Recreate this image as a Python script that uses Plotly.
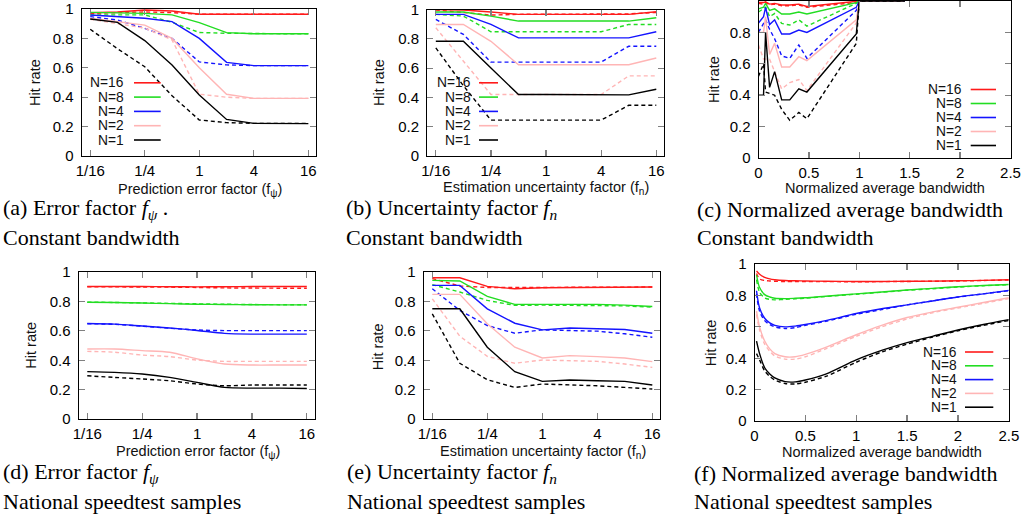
import math
import plotly.graph_objects as go

W, H = 1034, 517

# ---------------- data ----------------
N_LABELS = ["N=16", "N=8", "N=4", "N=2", "N=1"]
COLORS = ["#ff1a1a", "#22dd22", "#1414ff", "#ffb5b5", "#000000"]

FACTOR_X = [1/16, 1/8, 1/4, 1/2, 1, 2, 4, 8, 16]
FACTOR_TICKS = [1/16, 1/4, 1, 4, 16]
FACTOR_TICKTEXT = ["1/16", "1/4", "1", "4", "16"]

# (a) prediction error factor, constant bandwidth
a_solid_16 = [0.975, 0.980, 0.993, 0.986, 0.964, 0.964, 0.964, 0.964, 0.964]
a_dash_16 = [0.970, 0.975, 0.980, 0.975, 0.965, 0.964, 0.964, 0.964, 0.964]
a_solid_8 = [0.977, 0.975, 0.970, 0.960, 0.907, 0.839, 0.832, 0.832, 0.832]
a_dash_8 = [0.960, 0.960, 0.960, 0.910, 0.840, 0.835, 0.832, 0.832, 0.832]
a_solid_4 = [0.959, 0.950, 0.937, 0.914, 0.800, 0.637, 0.615, 0.615, 0.615]
a_dash_4 = [0.948, 0.925, 0.868, 0.800, 0.640, 0.620, 0.615, 0.615, 0.615]
a_solid_2 = [0.937, 0.914, 0.890, 0.800, 0.600, 0.420, 0.392, 0.392, 0.392]
a_dash_2 = [0.930, 0.900, 0.870, 0.790, 0.420, 0.400, 0.392, 0.392, 0.392]
a_solid_1 = [0.932, 0.909, 0.785, 0.619, 0.415, 0.249, 0.222, 0.222, 0.220]
a_dash_1 = [0.862, 0.730, 0.607, 0.410, 0.245, 0.227, 0.222, 0.222, 0.222]

# (b) estimation uncertainty factor, constant bandwidth
b_solid_16 = [1.000, 0.997, 0.983, 0.967, 0.967, 0.967, 0.967, 0.967, 0.985]
b_dash_16 = [0.997, 0.978, 0.962, 0.967, 0.967, 0.967, 0.967, 0.970, 0.980]
b_solid_8 = [0.983, 0.983, 0.955, 0.921, 0.921, 0.921, 0.921, 0.921, 0.944]
b_dash_8 = [0.967, 0.955, 0.848, 0.848, 0.848, 0.848, 0.848, 0.898, 0.898]
b_solid_4 = [0.967, 0.967, 0.898, 0.806, 0.806, 0.806, 0.806, 0.806, 0.848]
b_dash_4 = [0.932, 0.830, 0.641, 0.641, 0.641, 0.641, 0.641, 0.749, 0.749]
b_solid_2 = [0.898, 0.898, 0.783, 0.623, 0.623, 0.623, 0.623, 0.623, 0.669]
b_dash_2 = [0.875, 0.646, 0.420, 0.420, 0.420, 0.420, 0.420, 0.547, 0.547]
b_solid_1 = [0.783, 0.783, 0.600, 0.420, 0.420, 0.420, 0.420, 0.417, 0.456]
b_dash_1 = [0.738, 0.480, 0.245, 0.245, 0.245, 0.245, 0.245, 0.346, 0.346]

# (c) normalized average bandwidth, constant bandwidth
C_X = [0.0, 0.05, 0.07, 0.11, 0.16, 0.23, 0.31, 0.40, 0.48, 0.97, 1.0, 1.45]
c_solid_16 = [0.990, 0.990, 0.995, 0.980, 0.985, 0.975, 0.975, 0.980, 0.965, 0.995, 1.0, 1.0]
c_dash_16 = [0.985, 0.980, 0.990, 0.975, 0.980, 0.970, 0.970, 0.975, 0.960, 0.990, 1.0, 1.0]
c_solid_8 = [0.950, 0.960, 0.985, 0.940, 0.950, 0.917, 0.917, 0.930, 0.917, 0.990, 1.0, 1.0]
c_dash_8 = [0.930, 0.950, 0.960, 0.900, 0.920, 0.857, 0.847, 0.880, 0.840, 0.985, 1.0, 1.0]
c_solid_4 = [0.860, 0.900, 0.960, 0.850, 0.880, 0.790, 0.790, 0.815, 0.800, 0.960, 1.0, 1.0]
c_dash_4 = [0.800, 0.860, 0.880, 0.820, 0.760, 0.650, 0.635, 0.720, 0.635, 0.940, 1.0, 1.0]
c_solid_2 = [0.800, 0.800, 0.900, 0.660, 0.730, 0.580, 0.580, 0.645, 0.620, 0.880, 1.0, 1.0]
c_dash_2 = [0.720, 0.630, 0.630, 0.630, 0.550, 0.440, 0.480, 0.500, 0.430, 0.860, 1.0, 1.0]
c_solid_1 = [0.400, 0.400, 0.800, 0.450, 0.550, 0.370, 0.370, 0.440, 0.420, 0.790, 1.0, 1.0]
c_dash_1 = [0.520, 0.600, 0.420, 0.410, 0.400, 0.310, 0.240, 0.290, 0.250, 0.730, 1.0, 1.0]

# (d) prediction error factor, national speedtest samples
d_solid_16 = [0.902, 0.902, 0.901, 0.900, 0.899, 0.900, 0.901, 0.901, 0.902]
d_dash_16 = [0.900, 0.899, 0.898, 0.897, 0.895, 0.892, 0.891, 0.890, 0.890]
d_solid_8 = [0.795, 0.793, 0.789, 0.785, 0.781, 0.779, 0.778, 0.777, 0.777]
d_dash_8 = [0.795, 0.793, 0.790, 0.787, 0.784, 0.781, 0.779, 0.778, 0.777]
d_solid_4 = [0.650, 0.646, 0.633, 0.620, 0.603, 0.583, 0.578, 0.578, 0.578]
d_dash_4 = [0.648, 0.645, 0.632, 0.618, 0.606, 0.602, 0.602, 0.602, 0.602]
d_solid_2 = [0.477, 0.477, 0.466, 0.455, 0.410, 0.375, 0.368, 0.368, 0.368]
d_dash_2 = [0.461, 0.455, 0.436, 0.425, 0.402, 0.393, 0.393, 0.393, 0.393]
d_solid_1 = [0.323, 0.318, 0.307, 0.284, 0.250, 0.216, 0.211, 0.211, 0.209]
d_dash_1 = [0.295, 0.284, 0.273, 0.261, 0.239, 0.227, 0.232, 0.232, 0.232]

# (e) estimation uncertainty factor, national speedtest samples
e_solid_16 = [0.961, 0.961, 0.902, 0.886, 0.893, 0.895, 0.895, 0.896, 0.898]
e_dash_16 = [0.955, 0.905, 0.895, 0.893, 0.895, 0.896, 0.897, 0.898, 0.898]
e_solid_8 = [0.943, 0.939, 0.834, 0.780, 0.780, 0.782, 0.780, 0.775, 0.766]
e_dash_8 = [0.914, 0.864, 0.807, 0.773, 0.775, 0.775, 0.775, 0.770, 0.761]
e_solid_4 = [0.909, 0.909, 0.750, 0.652, 0.607, 0.620, 0.614, 0.609, 0.584]
e_dash_4 = [0.886, 0.739, 0.636, 0.584, 0.607, 0.602, 0.598, 0.580, 0.557]
e_solid_2 = [0.848, 0.848, 0.648, 0.489, 0.416, 0.432, 0.425, 0.416, 0.391]
e_dash_2 = [0.818, 0.564, 0.427, 0.380, 0.402, 0.395, 0.393, 0.375, 0.352]
e_solid_1 = [0.750, 0.750, 0.489, 0.323, 0.257, 0.266, 0.261, 0.257, 0.232]
e_dash_1 = [0.716, 0.380, 0.268, 0.216, 0.239, 0.234, 0.227, 0.216, 0.205]

# (f) normalized average bandwidth, national speedtest samples
F_X = [0.02, 0.05, 0.1, 0.15, 0.2, 0.3, 0.4, 0.5, 0.7, 1.0, 1.25, 1.5, 1.75, 2.0, 2.25, 2.5]
f_solid_16 = [0.955, 0.935, 0.915, 0.905, 0.900, 0.895, 0.893, 0.892, 0.890, 0.889, 0.889, 0.890, 0.891, 0.893, 0.896, 0.900]
f_dash_16 = [0.940, 0.905, 0.895, 0.892, 0.890, 0.888, 0.888, 0.888, 0.888, 0.887, 0.888, 0.889, 0.890, 0.892, 0.895, 0.898]
f_solid_8 = [0.930, 0.850, 0.805, 0.790, 0.782, 0.780, 0.782, 0.785, 0.795, 0.810, 0.822, 0.835, 0.845, 0.855, 0.863, 0.870]
f_dash_8 = [0.900, 0.820, 0.785, 0.775, 0.772, 0.775, 0.778, 0.783, 0.793, 0.808, 0.820, 0.833, 0.843, 0.853, 0.862, 0.868]
f_solid_4 = [0.830, 0.720, 0.655, 0.625, 0.610, 0.600, 0.605, 0.615, 0.640, 0.685, 0.715, 0.740, 0.765, 0.790, 0.810, 0.832]
f_dash_4 = [0.810, 0.700, 0.640, 0.615, 0.600, 0.590, 0.595, 0.610, 0.635, 0.680, 0.710, 0.740, 0.765, 0.790, 0.810, 0.830]
f_solid_2 = [0.700, 0.600, 0.510, 0.460, 0.430, 0.410, 0.410, 0.425, 0.470, 0.550, 0.610, 0.660, 0.695, 0.725, 0.755, 0.785]
f_dash_2 = [0.680, 0.580, 0.490, 0.445, 0.415, 0.395, 0.395, 0.410, 0.460, 0.540, 0.600, 0.650, 0.690, 0.720, 0.750, 0.780]
f_solid_1 = [0.510, 0.430, 0.340, 0.300, 0.275, 0.252, 0.250, 0.262, 0.300, 0.390, 0.450, 0.500, 0.540, 0.580, 0.615, 0.646]
f_dash_1 = [0.430, 0.390, 0.320, 0.285, 0.262, 0.240, 0.237, 0.248, 0.285, 0.375, 0.440, 0.490, 0.535, 0.575, 0.610, 0.640]

BW_TICKS = [0, 0.5, 1, 1.5, 2, 2.5]
BW_TICKTEXT = ["0", "0.5", "1", "1.5", "2", "2.5"]
Y_TICKS = [0, 0.2, 0.4, 0.6, 0.8, 1]
Y_TICKTEXT = ["0", "0.2", "0.4", "0.6", "0.8", "1"]

# ---------------- layout helpers ----------------
SANS = "Liberation Sans, Arial, sans-serif"
SERIF = "Liberation Serif, Times New Roman, serif"


def px_x(v):
    return v / W


def px_y(v):
    return 1 - v / H


LOG_RANGE = [math.log10(2 ** -4.32), math.log10(2 ** 4.28)]

panels = [
    dict(key="a", dom=(81.5, 316, 9, 156), kind="factor",
         series=[(a_solid_16, a_dash_16), (a_solid_8, a_dash_8), (a_solid_4, a_dash_4),
                 (a_solid_2, a_dash_2), (a_solid_1, a_dash_1)],
         shape="linear", xtitle="Prediction error factor (f<sub>ψ</sub>)",
         xt=(200, 190), yt=(35, 83),
         legend=dict(text_r=124.7, line=(134, 160.7), y0=82.8, dy=14.3),
         cap=("(a) Error factor <i>f<sub>ψ</sub></i> .", "Constant bandwidth"), capx=2, capy=(209, 237)),
    dict(key="b", dom=(427, 664, 9.5, 156), kind="factor",
         series=[(b_solid_16, b_dash_16), (b_solid_8, b_dash_8), (b_solid_4, b_dash_4),
                 (b_solid_2, b_dash_2), (b_solid_1, b_dash_1)],
         shape="linear", xtitle="Estimation uncertainty factor (f<sub>n</sub>)",
         xt=(545.8, 188), yt=(379, 83),
         legend=dict(text_r=471.7, line=(479, 498), y0=82.8, dy=14.3),
         cap=("(b) Uncertainty factor <i>f<sub>n</sub></i>", "Constant bandwidth"), capx=345, capy=(209, 237)),
    dict(key="c", dom=(758.5, 1010.5, 1, 158), kind="bw", xs=C_X,
         series=[(c_solid_16, c_dash_16), (c_solid_8, c_dash_8), (c_solid_4, c_dash_4),
                 (c_solid_2, c_dash_2), (c_solid_1, c_dash_1)],
         shape="linear", xtitle="Normalized average bandwidth",
         xt=(885, 188), yt=(714, 80),
         legend=dict(text_r=962.7, line=(970.7, 996), y0=89.5, dy=14.0),
         cap=("(c) Normalized average bandwidth", "Constant bandwidth"), capx=696, capy=(209, 237)),
    dict(key="d", dom=(78.5, 314.5, 272, 419.2), kind="factor",
         series=[(d_solid_16, d_dash_16), (d_solid_8, d_dash_8), (d_solid_4, d_dash_4),
                 (d_solid_2, d_dash_2), (d_solid_1, d_dash_1)],
         shape="spline", xtitle="Prediction error factor (f<sub>ψ</sub>)",
         xt=(197.5, 451.7), yt=(31, 345.7), legend=None,
         cap=("(d) Error factor <i>f<sub>ψ</sub></i>", "National speedtest samples"), capx=1.5, capy=(473, 501)),
    dict(key="e", dom=(423.5, 660, 272, 419.2), kind="factor",
         series=[(e_solid_16, e_dash_16), (e_solid_8, e_dash_8), (e_solid_4, e_dash_4),
                 (e_solid_2, e_dash_2), (e_solid_1, e_dash_1)],
         shape="linear", xtitle="Estimation uncertainty factor (f<sub>n</sub>)",
         xt=(543.3, 451.7), yt=(377.5, 346.7), legend=None,
         cap=("(e) Uncertainty factor <i>f<sub>n</sub></i>", "National speedtest samples"), capx=346, capy=(473, 501)),
    dict(key="f", dom=(754.5, 1008.8, 264, 421.2), kind="bw", xs=F_X,
         series=[(f_solid_16, f_dash_16), (f_solid_8, f_dash_8), (f_solid_4, f_dash_4),
                 (f_solid_2, f_dash_2), (f_solid_1, f_dash_1)],
         shape="spline", xtitle="Normalized average bandwidth",
         xt=(881.7, 451.7), yt=(711, 343.3),
         legend=dict(text_r=958.3, line=(965, 993.3), y0=352.0, dy=13.8),
         cap=("(f) Normalized average bandwidth", "National speedtest samples"), capx=693, capy=(473, 501)),
]

fig = go.Figure()
layout = dict(
    width=W, height=H, margin=dict(l=0, r=0, t=0, b=0, autoexpand=False),
    paper_bgcolor="white", plot_bgcolor="white", showlegend=False,
    font=dict(family=SANS, size=15, color="black"),
)
annotations = []
shapes = []

for i, p in enumerate(panels):
    n = i + 1
    xa = "x" if n == 1 else f"x{n}"
    ya = "y" if n == 1 else f"y{n}"
    l, r, t, b = p["dom"]
    common = dict(
        ticks="inside", ticklen=6, tickwidth=1.2, tickcolor="#808080",
        showline=True, linecolor="black", linewidth=1, mirror="ticks",
        showgrid=False, zeroline=False, automargin=False,
        tickfont=dict(family=SANS, size=15, color="black"),
    )
    if p["kind"] == "factor":
        xcfg = dict(type="log", range=LOG_RANGE, tickmode="array",
                    tickvals=FACTOR_TICKS, ticktext=FACTOR_TICKTEXT)
        xs = FACTOR_X
    else:
        xcfg = dict(type="linear", range=[0, 2.5], tickmode="array",
                    tickvals=BW_TICKS, ticktext=BW_TICKTEXT)
        xs = p["xs"]
    layout["xaxis" if n == 1 else f"xaxis{n}"] = dict(
        domain=[px_x(l), px_x(r)], anchor=ya, ticklabelstandoff=1, **xcfg, **common)
    layout["yaxis" if n == 1 else f"yaxis{n}"] = dict(
        domain=[px_y(b), px_y(t)], anchor=xa, range=[0, 1], tickmode="array",
        tickvals=Y_TICKS, ticktext=Y_TICKTEXT, ticklabelstandoff=4, **common)

    for (solid, dashed), color, lab in zip(p["series"], COLORS, N_LABELS):
        line_kw = dict(shape=p["shape"])
        if p["shape"] == "spline":
            line_kw["smoothing"] = 0.8
        fig.add_trace(go.Scatter(x=xs, y=solid, mode="lines", name=lab,
                                 line=dict(color=color, width=1.4, **line_kw),
                                 xaxis=xa, yaxis=ya, hoverinfo="skip"))
        fig.add_trace(go.Scatter(x=xs, y=dashed, mode="lines", name=lab + " (dashed)",
                                 line=dict(color=color, width=1.4, dash="4px,3px", **line_kw),
                                 xaxis=xa, yaxis=ya, hoverinfo="skip"))

    # axis titles
    annotations.append(dict(text=p["xtitle"], x=px_x(p["xt"][0]), y=px_y(p["xt"][1]),
                            xref="paper", yref="paper", showarrow=False,
                            xanchor="center", yanchor="middle", borderpad=0,
                            font=dict(family=SANS, size=14.5, color="#111")))
    annotations.append(dict(text="Hit rate", x=px_x(p["yt"][0]), y=px_y(p["yt"][1]),
                            xref="paper", yref="paper", showarrow=False, textangle=-90,
                            xanchor="center", yanchor="middle",
                            font=dict(family=SANS, size=14.5, color="#111")))
    # legend (gnuplot style: text left, key sample right)
    lg = p["legend"]
    if lg:
        for k, (lab, color) in enumerate(zip(N_LABELS, COLORS)):
            yy = lg["y0"] + k * lg["dy"]
            annotations.append(dict(text=lab, x=px_x(lg["text_r"]), y=px_y(yy),
                                    xref="paper", yref="paper", showarrow=False,
                                    xanchor="right", yanchor="middle", borderpad=0,
                                    font=dict(family=SANS, size=13.8, color="#111")))
            shapes.append(dict(type="line", xref="paper", yref="paper",
                               x0=px_x(lg["line"][0]), x1=px_x(lg["line"][1]),
                               y0=px_y(yy), y1=px_y(yy),
                               line=dict(color=color, width=1.6)))
    # captions
    for txt, cy in zip(p["cap"], p["capy"]):
        annotations.append(dict(text=txt, x=px_x(p["capx"]), y=px_y(cy),
                                xref="paper", yref="paper", showarrow=False,
                                xanchor="left", yanchor="middle", borderpad=0,
                                font=dict(family=SERIF, size=22, color="black")))

layout["annotations"] = annotations
layout["shapes"] = shapes
fig.update_layout(**layout)
fig.write_html("out.html", config={"displayModeBar": False, "staticPlot": True},
               post_script="document.body.style.margin='0';document.body.style.overflow='hidden';")
